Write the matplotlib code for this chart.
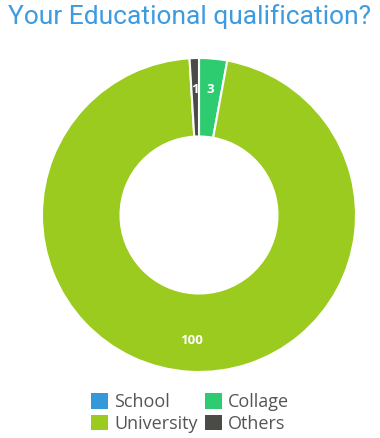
import matplotlib.pyplot as plt
from matplotlib.patches import Patch
import numpy as np

categories = ["School", "Collage", "University", "Others"]
values = [0, 3, 100, 1]
colors = ["#3498db", "#2ecc71", "#9acb1e", "#4a4a47"]

fig = plt.figure(figsize=(3.8, 4.38), dpi=100)
fig.text(0.5, 0.99, "Your Educational qualification?", ha="center", va="top",
         fontsize=19, color="#3d9be0", family="Roboto")

# pie area in pixel terms: center ~ (199, 215), outer radius ~157
ax = fig.add_axes([(199 - 157) / 380, 1 - (215 + 157) / 438, 314 / 380, 314 / 438])
wedges, _ = ax.pie(values, colors=colors, startangle=90, counterclock=False,
                   radius=1.0, wedgeprops=dict(width=0.5, edgecolor="white", linewidth=1.5))
ax.set_xlim(-1, 1)
ax.set_ylim(-1, 1)
ax.set_aspect("equal")

# value labels placed in the middle of each ring segment
total = sum(values)
start = 90.0
for v in values:
    ang = start - 360 * v / total / 2
    start -= 360 * v / total
    if v == 0:
        continue
    r = 0.8
    x = r * np.cos(np.radians(ang))
    y = r * np.sin(np.radians(ang))
    ax.text(x, y, str(v), ha="center", va="center", fontsize=9.5,
            fontweight="bold", color="white", family="Open Sans")

# legend reads row by row, matplotlib fills columns first
order = [0, 2, 1, 3]
handles = [Patch(facecolor=colors[i], edgecolor="none") for i in order]
labels = [categories[i] for i in order]
fig.legend(handles, labels, ncol=2, loc="lower center", bbox_to_anchor=(0.5, -0.025),
           frameon=False, prop=dict(family="Open Sans", size=13),
           labelcolor="#555555", handlelength=0.95, handleheight=0.95,
           handletextpad=0.35, columnspacing=0.4, labelspacing=0.2)

fig.savefig("out.png", dpi=100)
